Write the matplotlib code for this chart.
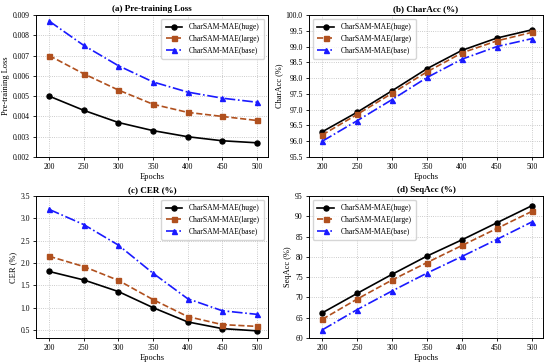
import matplotlib
matplotlib.use("Agg")
import matplotlib.pyplot as plt

plt.rcParams['font.family'] = ['Liberation Serif', 'DejaVu Serif']

epochs = [200, 250, 300, 350, 400, 450, 500]
labels = ["CharSAM-MAE(huge)", "CharSAM-MAE(large)", "CharSAM-MAE(base)"]

loss_huge = [0.0050, 0.0043, 0.0037, 0.0033, 0.0030, 0.0028, 0.0027]
loss_large = [0.0070, 0.0061, 0.0053, 0.0046, 0.0042, 0.0040, 0.0038]
loss_base = [0.0087, 0.0075, 0.0065, 0.0057, 0.0052, 0.0049, 0.0047]

char_huge = [96.3, 96.92, 97.6, 98.3, 98.88, 99.27, 99.53]
char_large = [96.2, 96.85, 97.52, 98.2, 98.8, 99.18, 99.45]
char_base = [96.0, 96.65, 97.32, 98.02, 98.6, 99.0, 99.25]

cer_huge = [1.81, 1.62, 1.36, 1.0, 0.68, 0.53, 0.48]
cer_large = [2.15, 1.92, 1.61, 1.18, 0.80, 0.62, 0.58]
cer_base = [3.2, 2.86, 2.4, 1.77, 1.2, 0.93, 0.85]

seq_huge = [66.2, 71.0, 75.7, 80.2, 84.2, 88.4, 92.6]
seq_large = [64.6, 69.6, 74.3, 78.6, 82.8, 87.0, 91.2]
seq_base = [62.0, 67.0, 71.6, 76.0, 80.1, 84.3, 88.6]

panels = [
    ("(a) Pre-training Loss", "Pre-training Loss", (loss_huge, loss_large, loss_base), (0.002, 0.009), "upper right",
     [0.002, 0.003, 0.004, 0.005, 0.006, 0.007, 0.008, 0.009], "{:.3f}"),
    ("(b) CharAcc (%)", "CharAcc (%)", (char_huge, char_large, char_base), (95.5, 100.0), "upper left",
     [95.5, 96.0, 96.5, 97.0, 97.5, 98.0, 98.5, 99.0, 99.5, 100.0], "{:.1f}"),
    ("(c) CER (%)", "CER (%)", (cer_huge, cer_large, cer_base), (0.32, 3.5), "upper right",
     [0.5, 1.0, 1.5, 2.0, 2.5, 3.0, 3.5], "{:.1f}"),
    ("(d) SeqAcc (%)", "SeqAcc (%)", (seq_huge, seq_large, seq_base), (60, 95), "upper left",
     [60, 65, 70, 75, 80, 85, 90, 95], "{:d}"),
]

colors = ["black", "#b0501e", "#1a1aff"]
styles = ["-", "--", "-."]
markers = ["o", "s", "^"]

fig = plt.figure(figsize=(5.5, 3.62), dpi=100)
W, H = 550, 362
boxes = [(36, 15, 268, 157), (309, 15, 543, 157), (36, 196, 268, 338), (309, 196, 543, 338)]

for (title, ylabel, series, ylim, loc, yticks, fmt), (x0, y0, x1, y1) in zip(panels, boxes):
    ax = fig.add_axes([x0 / W, 1 - y1 / H, (x1 - x0) / W, (y1 - y0) / H])
    for vals, lab, c, ls, m in zip(series, labels, colors, styles, markers):
        ax.plot(epochs, vals, color=c, linestyle=ls, marker=m, markersize=3.6, linewidth=1.2, label=lab)
    ax.set_xlim(181, 516)
    ax.set_ylim(*ylim)
    ax.set_xticks(epochs)
    ax.set_yticks(yticks)
    ax.set_yticklabels([fmt.format(v) for v in yticks])
    ax.tick_params(labelsize=5.5, length=2.5, width=0.6, pad=2)
    ax.grid(True, linestyle=":", color="#bbbbbb", linewidth=0.6)
    ax.set_title(title, fontsize=6.5, fontweight="bold", pad=3)
    ax.set_xlabel("Epochs", fontsize=6, labelpad=1.5)
    ax.set_ylabel(ylabel, fontsize=6, labelpad=2)
    for s in ax.spines.values():
        s.set_linewidth(0.7)
    ax.legend(loc=loc, fontsize=5.5, frameon=True, edgecolor="#cccccc", handlelength=2.2,
              borderpad=0.6, labelspacing=0.45, fancybox=True)

fig.savefig("out.png", dpi=100)
